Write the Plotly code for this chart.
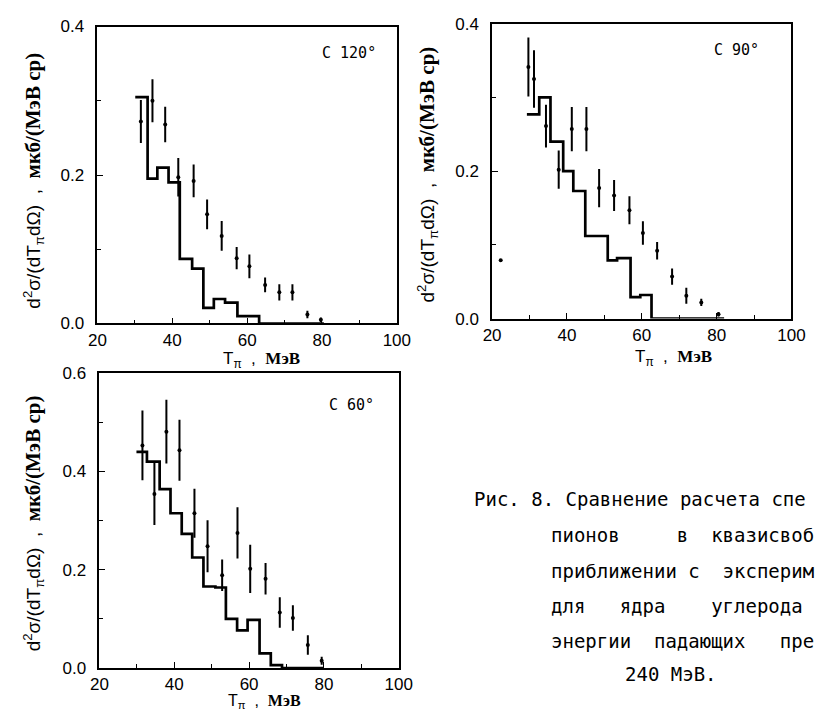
import plotly.graph_objects as go

W, H = 822, 720

# ---------------- data: C 120 deg ----------------
edges_120 = [30.1, 33.4, 36.0, 39.0, 42.0, 45.3, 48.3, 51.1, 54.1, 57.4, 60.4, 63.2, 80.5]
calc_120 = [0.305, 0.195, 0.210, 0.190, 0.087, 0.074, 0.021, 0.033, 0.028, 0.010, 0.010, 0.0]
t_120 = [31.6, 34.7, 38.1, 41.6, 45.7, 49.3, 53.2, 57.2, 60.6, 64.8, 68.6, 72.1, 76.1, 79.7]
exp_120 = [0.272, 0.300, 0.268, 0.197, 0.192, 0.147, 0.118, 0.088, 0.077, 0.052, 0.042, 0.042, 0.012, 0.005]
err_120 = [0.029, 0.029, 0.024, 0.026, 0.022, 0.020, 0.020, 0.015, 0.016, 0.010, 0.011, 0.011, 0.005, 0.003]

# ---------------- data: C 90 deg ----------------
edges_90 = [29.3, 32.6, 35.6, 39.0, 41.7, 44.9, 50.9, 53.4, 57.0, 59.6, 62.6, 82.0]
calc_90 = [0.277, 0.300, 0.240, 0.200, 0.173, 0.112, 0.079, 0.082, 0.029, 0.032, 0.0]
t_90 = [22.3, 29.7, 31.2, 34.4, 37.8, 41.3, 45.2, 48.6, 52.6, 56.7, 60.3, 64.1, 68.1, 71.9, 75.9, 80.5]
exp_90 = [0.079, 0.341, 0.325, 0.261, 0.202, 0.257, 0.257, 0.177, 0.167, 0.147, 0.116, 0.092, 0.057, 0.031, 0.022, 0.006]
err_90 = [0.0, 0.040, 0.039, 0.029, 0.026, 0.030, 0.030, 0.026, 0.021, 0.019, 0.016, 0.012, 0.011, 0.011, 0.005, 0.003]

# ---------------- data: C 60 deg ----------------
edges_60 = [29.9, 32.7, 36.1, 39.0, 42.0, 44.8, 47.8, 51.0, 53.8, 56.8, 59.6, 62.8, 65.8, 68.8, 80.0]
calc_60 = [0.440, 0.420, 0.364, 0.315, 0.273, 0.225, 0.166, 0.164, 0.100, 0.077, 0.098, 0.030, 0.006, 0.0]
t_60 = [31.5, 34.7, 37.9, 41.4, 45.4, 48.9, 52.8, 56.9, 60.3, 64.4, 68.2, 71.7, 75.7, 79.4]
exp_60 = [0.453, 0.354, 0.481, 0.443, 0.315, 0.248, 0.189, 0.275, 0.202, 0.182, 0.113, 0.102, 0.047, 0.015]
err_60 = [0.071, 0.063, 0.065, 0.062, 0.050, 0.053, 0.032, 0.052, 0.049, 0.032, 0.031, 0.026, 0.020, 0.008]

x_ticks = [20, 40, 60, 80, 100]
panel_labels = ["C 120°", "C 90°", "C 60°"]
y_title = ("d<sup>2</sup>σ/(dT<sub>π</sub>dΩ)\u00a0 ,\u00a0 "
           "<span style='font-family:Liberation Serif;font-size:21px'><b>мкб/(МэВ ср)</b></span>")
x_title = ("T<sub>π</sub>\u00a0 ,\u00a0 "
           "<span style='font-family:Liberation Serif'><b>МэВ</b></span>")
NB = "\u00a0"
caption = [
    ("Рис. 8. Сравнение расчета спе", 822, 503, "right"),
    ("пионов" + NB * 5 + "в" + NB * 2 + "квазисвоб", 556, 540, "left"),
    ("приближении с" + NB * 2 + "эксперим", 556, 577, "left"),
    ("для" + NB * 3 + "ядра" + NB * 4 + "углерода", 556, 613, "left"),
    ("энергии" + NB * 2 + "падающих" + NB * 3 + "пре", 556, 649, "left"),
    ("240 МэВ.", 632, 683, "left"),
]

def px(x):
    return x / W

def py(y):
    return 1 - y / H

fig = go.Figure()

panels = [
    (edges_120, calc_120, t_120, exp_120, err_120, "x", "y"),
    (edges_90, calc_90, t_90, exp_90, err_90, "x2", "y2"),
    (edges_60, calc_60, t_60, exp_60, err_60, "x3", "y3"),
]
for edges, calc, t, e, err, xa, ya in panels:
    fig.add_trace(go.Scatter(
        x=edges, y=calc + [calc[-1]], mode="lines",
        line=dict(shape="hv", color="black", width=2.7),
        xaxis=xa, yaxis=ya, showlegend=False, hoverinfo="skip"))
    fig.add_trace(go.Scatter(
        x=t, y=e, mode="markers",
        marker=dict(size=4, color="black"),
        error_y=dict(type="data", array=err, visible=True, thickness=2,
                     width=0, color="black"),
        xaxis=xa, yaxis=ya, showlegend=False))

tickfont = dict(family="Liberation Sans", size=17, color="black")

def xaxis(domain, anchor):
    return dict(domain=domain, anchor=anchor, range=[20, 100],
                tickvals=x_ticks, ticks="inside", ticklen=6, tickwidth=1,
                tickcolor="black", showline=True, linecolor="black",
                linewidth=1.6, mirror=True, showgrid=False, zeroline=False,
                tickfont=tickfont,
                minor=dict(dtick=10, tick0=0, ticks="inside", ticklen=4,
                           tickcolor="black", showgrid=False))

def yaxis(domain, anchor, top):
    return dict(domain=domain, anchor=anchor, range=[0, top],
                dtick=0.2, tickformat=".1f", ticks="inside", ticklen=6,
                tickwidth=1, tickcolor="black", showline=True,
                linecolor="black", linewidth=1.6, mirror=True,
                showgrid=False, zeroline=False, tickfont=tickfont,
                ticklabelstandoff=8,
                minor=dict(dtick=0.1, ticks="inside", ticklen=4,
                           tickcolor="black", showgrid=False))

# pixel boxes of the three panels (left, right, top, bottom)
box1 = (91, 399, 18, 323)
box2 = (497, 805, 15, 318)
box3 = (93, 401, 374, 677)

def dom(box):
    l, r, t, b = box
    return [px(l), px(r)], [py(b), py(t)]

d1x, d1y = dom(box1)
d2x, d2y = dom(box2)
d3x, d3y = dom(box3)

fig.update_layout(
    width=W, height=H,
    margin=dict(l=0, r=0, t=0, b=0),
    paper_bgcolor="white", plot_bgcolor="white",
    xaxis=xaxis(d1x, "y"), yaxis=yaxis(d1y, "x", 0.4),
    xaxis2=xaxis(d2x, "y2"), yaxis2=yaxis(d2y, "x2", 0.4),
    xaxis3=xaxis(d3x, "y3"), yaxis3=yaxis(d3y, "x3", 0.6),
)

ann = []
title_font = dict(family="Liberation Sans", size=19, color="black")
for xc, yc in [(25, 176), (431, 170), (25, 528)]:
    ann.append(dict(text=y_title, x=px(xc), y=py(yc), xref="paper", yref="paper",
                    textangle=-90, showarrow=False, font=title_font,
                    xanchor="center", yanchor="middle"))
for xc, yc, fs in [(260, 361, 17), (684, 358, 17), (263, 711, 16)]:
    ann.append(dict(text=x_title, x=px(xc), y=py(yc), xref="paper", yref="paper",
                    showarrow=False,
                    font=dict(family="Liberation Sans", size=fs, color="black"),
                    xanchor="center", yanchor="middle"))
for lab, (xc, yc) in zip(panel_labels, [(350, 45), (748, 42), (352, 407)]):
    ann.append(dict(text=lab, x=px(xc), y=py(yc), xref="paper", yref="paper",
                    showarrow=False,
                    font=dict(family="DejaVu Sans Mono", size=15, color="black"),
                    xanchor="center", yanchor="middle"))
for txt, xc, yc, anchor in caption:
    ann.append(dict(text=txt, x=px(xc), y=py(yc), xref="paper", yref="paper",
                    showarrow=False,
                    font=dict(family="DejaVu Sans Mono", size=19, color="black"),
                    xanchor=anchor, yanchor="middle"))
fig.update_layout(annotations=ann)

fig.write_html("out.html", config={"displayModeBar": False},
               post_script="document.body.style.margin='0px';")
